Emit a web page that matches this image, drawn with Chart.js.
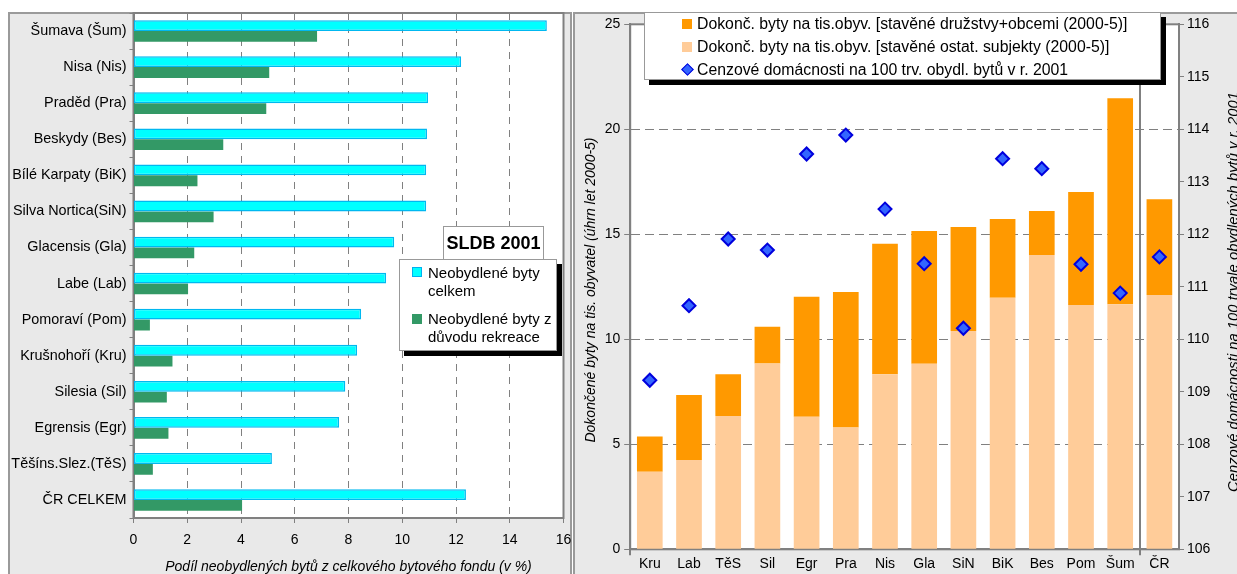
<!DOCTYPE html>
<html><head><meta charset="utf-8">
<script src="https://cdn.jsdelivr.net/npm/chart.js@4/dist/chart.umd.min.js"></script>
<style>
html,body{margin:0;padding:0;background:#fff;width:1237px;height:574px;overflow:hidden;font-family:"Liberation Sans",Arial,sans-serif;}
.panel{position:absolute;background:#e9e9e9;border:2px solid #9a9a9a;box-sizing:border-box;}
#p1{left:8px;top:12px;width:564px;height:590px;}
#p2{left:573px;top:12px;width:700px;height:590px;}
canvas{position:absolute;}
.leg{position:absolute;background:#fff;border:1px solid #999;box-shadow:5px 5px 0 #000;color:#000;box-sizing:border-box;}
.row{position:absolute;white-space:nowrap;line-height:18px;}
.sq{position:absolute;width:10px;height:10px;box-sizing:border-box;}
</style></head><body>
<div class="panel" id="p1"></div><div class="panel" id="p2"></div>
<canvas id="c1" width="563" height="562" style="left:8px;top:12px;width:563px;height:562px"></canvas>
<canvas id="c2" width="680" height="562" style="left:573px;top:12px;width:680px;height:562px"></canvas>

<div class="leg" style="left:399px;top:259px;width:158px;height:92px;font-size:15px;">
  <div class="sq" style="left:12px;top:7px;background:#00ffff;border:1px solid #00b0f0;"></div>
  <div class="row" style="left:28px;top:4px;">Neobydlené byty<br>celkem</div>
  <div class="sq" style="left:12px;top:54px;background:#339966;"></div>
  <div class="row" style="left:28px;top:50px;">Neobydlené byty z<br>důvodu rekreace</div>
</div>
<div style="position:absolute;left:443px;top:226px;width:101px;height:34px;background:#fff;border:1px solid #999;box-sizing:border-box;font-weight:bold;font-size:18px;line-height:32px;text-align:center;">SLDB 2001</div>

<div class="leg" style="left:644px;top:12px;width:517px;height:68px;font-size:15.8px;">
  <div class="sq" style="left:37px;top:6px;background:#ff9900;"></div>
  <div class="row" style="left:52px;top:2px;">Dokonč. byty na tis.obyv. [stavěné družstvy+obcemi (2000-5)]</div>
  <div class="sq" style="left:37px;top:29px;background:#ffcc99;"></div>
  <div class="row" style="left:52px;top:25px;">Dokonč. byty na tis.obyv. [stavěné ostat. subjekty (2000-5)]</div>
  <div class="sq" style="left:38px;top:52px;width:9px;height:9px;background:#3366ff;border:1.5px solid #0000dd;transform:rotate(45deg);"></div>
  <div class="row" style="left:52px;top:48px;">Cenzové domácnosti na 100 trv. obydl. bytů v r. 2001</div>
</div>

<script>
// ---- left chart data ----
const regionLabels = ['Šumava (Šum)','Nisa (Nis)','Praděd (Pra)','Beskydy (Bes)','Bílé Karpaty (BiK)','Silva Nortica(SiN)','Glacensis (Gla)','Labe (Lab)','Pomoraví (Pom)','Krušnohoří (Kru)','Silesia (Sil)','Egrensis (Egr)','Těšíns.Slez.(TěS)','ČR CELKEM'];
const vacantTotal = [15.38, 12.19, 10.96, 10.92, 10.89, 10.89, 9.70, 9.40, 8.47, 8.32, 7.88, 7.65, 5.15, 12.37];
const vacantRecreation = [6.83, 5.05, 4.94, 3.34, 2.38, 2.98, 2.26, 2.03, 0.61, 1.45, 1.24, 1.30, 0.72, 4.04];
const leftXTicks = [0, 2, 4, 6, 8, 10, 12, 14, 16];

// ---- right chart data ----
const regionCodes = ['Kru','Lab','TěS','Sil','Egr','Pra','Nis','Gla','SiN','BiK','Bes','Pom','Šum','ČR'];
const builtOther = [3.69, 4.25, 6.35, 8.85, 6.31, 5.80, 8.33, 8.84, 10.40, 11.98, 14.01, 11.63, 11.67, 12.11];
const builtCoopMunicipal = [1.68, 3.10, 1.98, 1.75, 5.72, 6.45, 6.22, 6.32, 4.95, 3.75, 2.10, 5.38, 9.81, 4.56];
const householdsPer100 = [109.22, 110.64, 111.91, 111.70, 113.53, 113.89, 112.48, 111.44, 110.21, 113.44, 113.25, 111.43, 110.88, 111.57];
const leftYTicks = [0, 5, 10, 15, 20, 25];
const rightYTicks = [106, 107, 108, 109, 110, 111, 112, 113, 114, 115, 116];

Chart.defaults.font.family = '"Liberation Sans", Arial, sans-serif';
Chart.defaults.font.size = 14;
Chart.defaults.color = '#000';

const GRAY = '#808080';
const areaPlugin = {
  id: 'area',
  beforeDraw(chart) {
    const {ctx, chartArea: a} = chart;
    ctx.save(); ctx.fillStyle = '#fff';
    ctx.fillRect(a.left, a.top, a.right - a.left, a.bottom - a.top);
    ctx.restore();
  },
  beforeDatasetsDraw(chart) {
    const {ctx, chartArea: a} = chart;
    ctx.save(); ctx.strokeStyle = GRAY; ctx.lineWidth = 2;
    ctx.strokeRect(a.left, a.top, a.right - a.left, a.bottom - a.top);
    ctx.restore();
  }
};
function fixPad(s) { s.paddingLeft = 0; s.paddingRight = 0; s.paddingTop = 0; s.paddingBottom = 0; }

// ---- left chart ----
new Chart(document.getElementById('c1'), {
  type: 'bar',
  data: {
    labels: regionLabels,
    datasets: [
      {label: 'Neobydlené byty celkem', data: vacantTotal, backgroundColor: '#00ffff', borderColor: '#00b8f0', borderWidth: 1.5, borderSkipped: false},
      {label: 'Neobydlené byty z důvodu rekreace', data: vacantRecreation, backgroundColor: '#339966', borderWidth: 0}
    ]
  },
  options: {
    indexAxis: 'y', responsive: false, animation: false, devicePixelRatio: 1,
    categoryPercentage: 0.6, barPercentage: 1.0,
    layout: {padding: {left: 0, right: 7.5, top: 1, bottom: 0}},
    plugins: {legend: {display: false}, tooltip: {enabled: false}},
    scales: {
      x: {
        min: 0, max: 16,
        afterBuildTicks: s => { s.ticks = leftXTicks.map(v => ({value: v})); },
        afterFit: s => { s.height = 56; fixPad(s); },
        ticks: {padding: 9, maxRotation: 0},
        grid: {color: GRAY, lineWidth: 1, tickLength: 5},
        border: {color: GRAY, width: 2, dash: [7, 6]}
      },
      y: {
        afterFit: s => { s.width = 125.5; fixPad(s); },
        ticks: {autoSkip: false, padding: 3, font: {size: 14.4}},
        grid: {drawOnChartArea: false, color: GRAY, tickLength: 4, offset: true},
        border: {color: GRAY, width: 2}
      }
    }
  },
  plugins: [areaPlugin, {
    id: 'xtitle',
    afterDraw(chart) {
      const {ctx, chartArea: a} = chart;
      ctx.save();
      ctx.font = 'italic 14px "Liberation Sans", Arial, sans-serif';
      ctx.fillStyle = '#000'; ctx.textAlign = 'center'; ctx.textBaseline = 'middle';
      ctx.fillText('Podíl neobydlených bytů z celkového bytového fondu (v %)', (a.left + a.right) / 2, 555);
      ctx.restore();
    }
  }]
});

// ---- right chart ----
const sepIdx = [0, 13, 14];
new Chart(document.getElementById('c2'), {
  type: 'bar',
  data: {
    labels: regionCodes,
    datasets: [
      {type: 'line', label: 'Cenzové domácnosti na 100 trv. obydl. bytů v r. 2001', data: householdsPer100, yAxisID: 'y2',
       showLine: false, pointStyle: 'rectRot', pointRadius: 6.5, pointBackgroundColor: '#3366ff', pointBorderColor: '#0000dd', pointBorderWidth: 2, order: 0},
      {label: 'Dokonč. byty na tis.obyv. [stavěné ostat. subjekty (2000-5)]', data: builtOther, backgroundColor: '#ffcc99', stack: 's', yAxisID: 'y', order: 1},
      {label: 'Dokonč. byty na tis.obyv. [stavěné družstvy+obcemi (2000-5)]', data: builtCoopMunicipal, backgroundColor: '#ff9900', stack: 's', yAxisID: 'y', order: 1}
    ]
  },
  options: {
    responsive: false, animation: false, devicePixelRatio: 1,
    categoryPercentage: 0.655, barPercentage: 1.0,
    layout: {padding: {left: 0, right: 0, top: 12.3, bottom: 0}},
    plugins: {legend: {display: false}, tooltip: {enabled: false}},
    scales: {
      x: {
        stacked: true,
        afterFit: s => { s.height = 24.7; fixPad(s); },
        ticks: {padding: 0, autoSkip: false, maxRotation: 0},
        grid: {offset: true, tickLength: 6, lineWidth: 2,
               color: c => sepIdx.includes(c.index) ? GRAY : 'rgba(0,0,0,0)'},
        border: {color: GRAY, width: 2}
      },
      y: {
        stacked: true, min: 0, max: 25, position: 'left',
        afterBuildTicks: s => { s.ticks = leftYTicks.map(v => ({value: v})); },
        afterFit: s => { s.width = 57.2; fixPad(s); },
        ticks: {padding: 4},
        grid: {color: GRAY, tickLength: 6},
        border: {color: GRAY, width: 2, dash: [9, 5]}
      },
      y2: {
        min: 106, max: 116, position: 'right',
        afterBuildTicks: s => { s.ticks = rightYTicks.map(v => ({value: v})); },
        afterFit: s => { s.width = 74; fixPad(s); },
        ticks: {padding: 3},
        grid: {drawOnChartArea: false, color: GRAY, tickLength: 5},
        border: {color: GRAY, width: 2}
      }
    }
  },
  plugins: [areaPlugin, {
    id: 'ytitles',
    afterDraw(chart) {
      const {ctx} = chart;
      ctx.save();
      ctx.fillStyle = '#000';
      ctx.font = 'italic 14px "Liberation Sans", Arial, sans-serif';
      ctx.translate(18, 278); ctx.rotate(-Math.PI / 2);
      ctx.textAlign = 'center'; ctx.textBaseline = 'middle';
      ctx.fillText('Dokončené byty na tis. obyvatel (úhrn let 2000-5)', 0, 0);
      ctx.restore();
      ctx.save();
      ctx.fillStyle = '#000';
      ctx.font = 'italic 14.8px "Liberation Sans", Arial, sans-serif';
      ctx.translate(665, 280); ctx.rotate(-Math.PI / 2);
      ctx.textAlign = 'center'; ctx.textBaseline = 'alphabetic';
      ctx.fillText('Cenzové domácnosti na 100 trvale obydlených bytů v r. 2001', 0, 0);
      ctx.restore();
    }
  }]
});
</script>
</body></html>
